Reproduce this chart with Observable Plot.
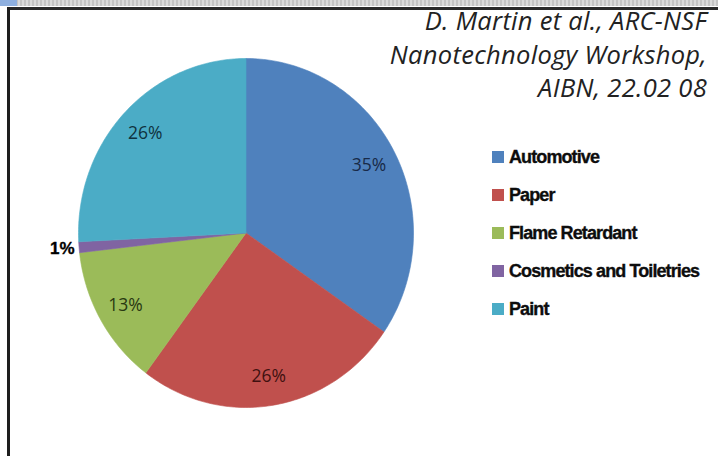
<!DOCTYPE html>
<html>
<head>
<meta charset="utf-8">
<script src="https://cdn.jsdelivr.net/npm/d3@7"></script>
<script src="https://cdn.jsdelivr.net/npm/@observablehq/plot@0.6"></script>
<style>
  html, body { margin: 0; padding: 0; background: #fff; }
  #page { position: relative; width: 718px; height: 456px; overflow: hidden; background: #fff; }
  #strip { position: absolute; left: 0; top: 0; width: 718px; height: 6px;
    background: repeating-linear-gradient(90deg, #c4c4c4 0 2px, #dadada 2px 4px); }
  #stripblue { position: absolute; left: 0; top: 0; width: 17px; height: 6px; background: #8fb0e0; }
  #topline { position: absolute; left: 7px; top: 7px; width: 711px; height: 3px; background: #2a2a2a; }
  #leftline { position: absolute; left: 7px; top: 7px; width: 3px; height: 449px; background: #1e1e1e; }
  #chart { position: absolute; left: 0; top: 0; }
  #cite { position: absolute; right: 11px; top: 4px; text-align: right;
    font-family: "Open Sans", sans-serif; font-style: italic; font-size: 25.5px; letter-spacing: 0.3px;
    line-height: 33.5px; color: #222; white-space: nowrap; }
  #legend { position: absolute; left: 492px; top: 138px; font-family: "Liberation Sans", Arial, sans-serif;
    font-weight: bold; font-size: 18px; letter-spacing: -0.9px; color: #0d0d0d; -webkit-text-stroke: 0.35px #0d0d0d; }
  .row { height: 38px; display: flex; align-items: center; }
  .sw { width: 12px; height: 12px; margin-right: 5px; }
</style>
</head>
<body>
<div id="page">
  <div id="strip"></div>
  <div id="stripblue"></div>
  <div id="chart"></div>
  <div id="topline"></div>
  <div id="leftline"></div>
  <div id="cite"></div>
  <div id="legend"></div>
</div>
<script>
const categories = ["Automotive", "Paper", "Flame Retardant", "Cosmetics and Toiletries", "Paint"];
const values = [34.6, 25.6, 13.0, 1.0, 25.8];
const labels = ["35%", "26%", "13%", "1%", "26%"];
const colors = ["#4F81BD", "#C0504D", "#9BBB59", "#8064A2", "#4BACC6"];
const labelColors = ["#182a48", "#401010", "#283812", "#000000", "#0f323e"];
const citation = ["D. Martin et al., ARC-NSF", "Nanotechnology Workshop,", "AIBN, 22.02 08"];

const total = d3.sum(values);
const points = [];
const labelData = [];
let cum = 0;
values.forEach((v, i) => {
  const a0 = cum / total * 2 * Math.PI;
  const a1 = (cum + v) / total * 2 * Math.PI;
  points.push({cat: categories[i], x: 0, y: 0});
  const n = Math.max(2, Math.ceil((a1 - a0) / (Math.PI / 180)));
  for (let k = 0; k <= n; k++) {
    const a = a0 + (a1 - a0) * k / n;
    points.push({cat: categories[i], x: Math.sin(a), y: Math.cos(a)});
  }
  points.push({cat: categories[i], x: 0, y: 0});
  const am = (a0 + a1) / 2;
  const r = v < 5 ? 1.1 : 0.83;
  labelData.push({cat: categories[i], label: labels[i], x: r * Math.sin(am), y: r * Math.cos(am),
    color: labelColors[i], bold: v < 5});
  cum += v;
});

const chart = Plot.plot({
  width: 718,
  height: 456,
  margin: 0,
  x: {domain: [-1, 1], range: [78, 413], axis: null},
  y: {domain: [-1, 1], range: [407, 58], axis: null},
  color: {domain: categories, range: colors},
  style: {background: "transparent"},
  marks: [
    Plot.line(points, {x: "x", y: "y", z: "cat", fill: "cat", stroke: "cat", strokeWidth: 0.6, curve: "linear"}),
    Plot.text(labelData.filter(d => !d.bold), {x: "x", y: "y", text: "label", fill: d => d.color,
      fontSize: 17.5, fontFamily: "Open Sans, sans-serif", letterSpacing: "-0.4px"}),
    Plot.text(labelData.filter(d => d.bold), {x: "x", y: "y", text: "label", fill: d => d.color,
      fontSize: 17, fontWeight: "bold", fontFamily: "Liberation Sans, Arial, sans-serif",
      letterSpacing: "-1px", stroke: "#000", strokeWidth: 0.35})
  ]
});
document.getElementById("chart").appendChild(chart);

document.getElementById("cite").innerHTML = citation.map(t => `<div>${t}</div>`).join("");
document.getElementById("legend").innerHTML = categories.map((c, i) =>
  `<div class="row"><div class="sw" style="background:${colors[i]}"></div><span>${c}</span></div>`).join("");
</script>
</body>
</html>
